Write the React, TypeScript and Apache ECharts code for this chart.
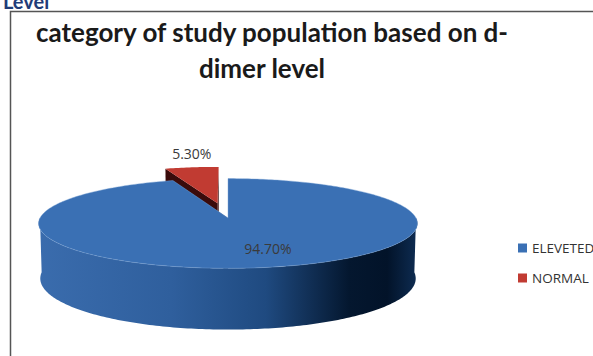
import React, { useEffect, useRef } from 'react';
import * as echarts from 'echarts';

// ---- data ----
const categories: string[] = ['ELEVETED', 'NORMAL'];
const shares: number[] = [94.7, 5.3];
const titleLines: string[] = ['category of study population based on d-', 'dimer level'];
const headerFragment = 'Level';

// ---- styling ----
const topColors = ['#3a70b4', '#c13b32'];
const sideColors = ['#1d3f6e', '#3a0b0b'];
const wallStops = [
  [
    { offset: 0, color: '#3a6cad' },
    { offset: 0.35, color: '#2f5f9d' },
    { offset: 0.6, color: '#1f4a80' },
    { offset: 0.82, color: '#04172f' },
    { offset: 0.92, color: '#021329' },
    { offset: 1, color: '#0e2c52' },
  ],
  [
    { offset: 0, color: '#8a2520' },
    { offset: 1, color: '#2a0606' },
  ],
];
// how far each slice is pulled out of the disc (unit radius)
const PULL = [0, 0.35];

// ---- 3D disc projection (pixels, unit radius) ----
const CX = 228;
const CY = 218;
const FOCAL = 1504;
const CAM_DIST = 8;
const ELEV = (13.6 * Math.PI) / 180;
const THICKNESS = 0.3;
const sinE = Math.sin(ELEV);
const cosE = Math.cos(ELEV);

function project(u: number, v: number, h: number): number[] {
  const Y = h * cosE + v * sinE;
  const Z = v * cosE - h * sinE;
  const k = FOCAL / (CAM_DIST + Z);
  return [CX + u * k, CY - Y * k];
}

const total = shares.reduce((a, b) => a + b, 0);
const DEG = Math.PI / 180;
const fmt = (v: number) => `${v.toFixed(2)}%`;

function sliceRenderer(index: number) {
  return (_params: any, api: any) => {
    const value = api.value(0) as number;
    const before = shares.slice(0, index).reduce((a, b) => a + b, 0);
    const a0 = (before / total) * 2 * Math.PI;
    const a1 = a0 + (value / total) * 2 * Math.PI;
    const mid = (a0 + a1) / 2;
    const pull = PULL[index] || 0;
    const ou = pull * Math.sin(mid);
    const ov = pull * Math.cos(mid);
    const pt = (r: number, phi: number, h: number) =>
      project(ou + r * Math.sin(phi), ov + r * Math.cos(phi), h);
    const arc = (from: number, to: number, h: number) => {
      const n = Math.max(2, Math.ceil(Math.abs(to - from) / DEG));
      const out: number[][] = [];
      for (let k = 0; k <= n; k++) out.push(pt(1, from + ((to - from) * k) / n, h));
      return out;
    };
    const bottom = -THICKNESS;
    const wall = (phi: number) => [pt(0, phi, 0), pt(1, phi, 0), pt(1, phi, bottom), pt(0, phi, bottom)];

    const startFront = Math.sin(a0) < -1e-6;
    const endFront = Math.sin(a1) > 1e-6;
    const children: any[] = [];

    // back-facing cut walls first
    if (!startFront) children.push({ type: 'polygon', shape: { points: wall(a0) }, style: { fill: sideColors[index] } });
    if (!endFront) children.push({ type: 'polygon', shape: { points: wall(a1) }, style: { fill: sideColors[index] } });

    // visible (front) part of the rounded outer wall
    const f0 = Math.max(a0, Math.PI / 2);
    const f1 = Math.min(a1, 1.5 * Math.PI);
    if (f1 > f0) {
      const topArc = arc(f0, f1, 0);
      const botArc = arc(f1, f0, bottom);
      const xs = topArc.map((p) => p[0]);
      const xMin = Math.min(...xs);
      const xMax = Math.max(...xs);
      children.push({
        type: 'polygon',
        shape: { points: topArc.concat(botArc) },
        style: { fill: new echarts.graphic.LinearGradient(xMin, 0, xMax, 0, wallStops[index], true) },
      });
    }

    // front-facing cut walls
    if (startFront) children.push({ type: 'polygon', shape: { points: wall(a0) }, style: { fill: sideColors[index] } });
    if (endFront) children.push({ type: 'polygon', shape: { points: wall(a1) }, style: { fill: sideColors[index] } });

    // top face
    children.push({
      type: 'polygon',
      shape: { points: [pt(0, 0, 0)].concat(arc(a0, a1, 0)) },
      style: { fill: topColors[index], stroke: index === 0 ? 'rgba(120,160,212,0.55)' : 'none', lineWidth: 0.8 },
    });

    // value label
    let lx: number;
    let ly: number;
    if (pull > 0) {
      const rim = pt(1, mid, 0);
      lx = rim[0];
      ly = rim[1] - 14;
    } else {
      const p = pt(0.65, mid, 0);
      lx = p[0] + 18;
      ly = p[1];
    }
    children.push({
      type: 'text',
      x: lx,
      y: ly,
      style: {
        text: fmt(value),
        fill: '#3a3a3a',
        font: '14px "Open Sans", sans-serif',
        align: 'center',
        verticalAlign: 'middle',
        textAlign: 'center',
        textVerticalAlign: 'middle',
      },
    });

    return { type: 'group', children };
  };
}

export default function App() {
  const ref = useRef<HTMLDivElement>(null);

  useEffect(() => {
    if (!ref.current) return;
    const chart = echarts.init(ref.current, undefined, { renderer: 'svg' });

    // slices pulled out of the disc sit behind the rest, so they are drawn first
    const series = categories.map((name, i) => ({
      type: 'custom',
      name,
      coordinateSystem: 'none',
      z: PULL[i] > 0 ? 1 : 2,
      itemStyle: { color: topColors[i] },
      data: [[shares[i]]],
      renderItem: sliceRenderer(i),
      silent: true,
    }));

    chart.setOption({
      animation: false,
      backgroundColor: '#ffffff',
      legend: {
        data: categories,
        orient: 'vertical',
        left: 513,
        top: 236,
        itemWidth: 9,
        itemHeight: 9,
        itemGap: 16,
        icon: 'rect',
        textStyle: { fontFamily: '"Open Sans", sans-serif', fontSize: 13.5, color: '#333333' },
      },
      graphic: [
        {
          type: 'text',
          x: 3,
          y: 11,
          style: {
            text: headerFragment,
            fill: '#1f3c78',
            font: 'bold 20px Lato, sans-serif',
            textAlign: 'left',
            textVerticalAlign: 'bottom',
          },
        },
        {
          type: 'rect',
          shape: { x: 10.5, y: 11.5, width: 800, height: 500 },
          style: { fill: '#ffffff', stroke: '#555555', lineWidth: 1.5 },
          silent: true,
        },
        {
          type: 'text',
          x: 272,
          y: 32,
          style: {
            text: titleLines[0],
            fill: '#1a1a1a',
            font: 'bold 26px Lato, sans-serif',
            textAlign: 'center',
            textVerticalAlign: 'middle',
          },
        },
        {
          type: 'text',
          x: 262,
          y: 68,
          style: {
            text: titleLines[1],
            fill: '#1a1a1a',
            font: 'bold 26px Lato, sans-serif',
            textAlign: 'center',
            textVerticalAlign: 'middle',
          },
        },
      ],
      series,
    });

    return () => chart.dispose();
  }, []);

  return (
    <div
      ref={ref}
      style={{ position: 'absolute', left: 0, top: 0, width: 593, height: 356, background: '#fff' }}
    />
  );
}
